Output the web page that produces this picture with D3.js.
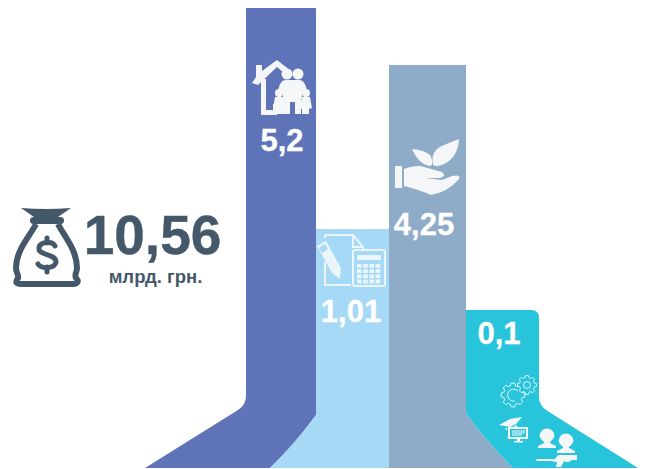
<!DOCTYPE html>
<html>
<head>
<meta charset="utf-8">
<script src="https://cdn.jsdelivr.net/npm/d3@7"></script>
<style>
html, body { margin: 0; padding: 0; background: #fff; }
svg { display: block; }
text { font-family: "Liberation Sans", Arial, sans-serif; font-weight: bold; }
</style>
</head>
<body>
<div id="chart"></div>
<script>
var categories = ["family", "admin", "economy", "other"];
var values = [5.2, 1.01, 4.25, 0.1];
var valueLabels = ["5,2", "1,01", "4,25", "0,1"];
var colors = ["#5f74b8", "#a6d9f6", "#8eabc8", "#28c4dc"];
var totalLabel = "10,56";
var unitLabel = "млрд. грн.";

var width = 646, height = 469, base = 468;
var ink = "#44586a", iconFill = "#f4f6f8";

var svg = d3.select("#chart").append("svg").attr("width", width).attr("height", height);

// bars in the picture are not to a single scale, so the value axis is piecewise
var y = d3.scaleLinear().domain([0.1, 1.01, 4.25, 5.2]).range([310, 229, 65, 8]);
var x = d3.scaleLinear().domain([0, 1, 2, 3, 4]).range([246, 316, 389, 466, 539]);

function shape(i) {
    var l = x(i), r = x(i + 1), t = y(values[i]);
    if (i == 0) return `M${l},${t}L${r},${t}L${r},415Q294,445 270,${base}L145,${base}L238,410Q${l},405 ${l},396Z`;
    if (i == 1) return `M${l},${t}L${r},${t}L${r},${base}L270,${base}Q294,445 ${l},415Z`;
    if (i == 2) return `M${l},${t}L${r},${t}L${r},413Q485,440 513,${base}L${l},${base}Z`;
    return `M${l},${t}L${r - 8},${t}Q${r},${t} ${r},${t + 8}L${r},397Q${r},405 546,410L638,${base}L513,${base}Q485,440 ${l},413Z`;
}

svg.selectAll(".bar").data(categories).enter().append("path")
    .attr("class", "bar")
    .attr("d", (d, i) => shape(i))
    .attr("fill", (d, i) => colors[i]);

// value labels
var labelPos = [[282, 151], [351, 322], [424, 235], [499, 344]];
svg.selectAll(".val").data(valueLabels).enter().append("text")
    .attr("class", "val")
    .attr("x", (d, i) => labelPos[i][0])
    .attr("y", (d, i) => labelPos[i][1])
    .attr("text-anchor", "middle")
    .attr("font-size", 31)
    .attr("fill", "#fff")
    .attr("stroke", "#fff")
    .attr("stroke-width", 0.3)
    .text(d => d);

// total
svg.append("text").attr("x", 152.5).attr("y", 254).attr("text-anchor", "middle")
    .attr("font-size", 55).attr("fill", ink).attr("stroke", ink).attr("stroke-width", 0.4).text(totalLabel);
svg.append("text").attr("x", 155.5).attr("y", 283).attr("text-anchor", "middle")
    .attr("font-size", 18.5).attr("fill", ink).text(unitLabel);

// money bag
var bag = svg.append("g").attr("fill", ink);
bag.append("path").attr("d", "M21,208Q46,210 71,208L58,217Q46,219 34,217Z");
bag.append("rect").attr("x", 30).attr("y", 217).attr("width", 34).attr("height", 7).attr("rx", 3.5);
bag.append("path").attr("fill", "none").attr("stroke", ink).attr("stroke-width", 6)
    .attr("d", "M36,224C30,236 16,250 16,268C16,273 19,275 18,278C15,282 16,284 21,284L73,284C78,284 79,281 76,278C74,275 77,272 77,268C77,250 64,236 58,224");
bag.append("path").attr("fill", "none").attr("stroke", ink).attr("stroke-width", 5).attr("stroke-linecap", "round")
    .attr("d", "M55,246C53,241 40,241 39,248C38,256 56,253 56,262C55,269 41,269 38,264");
bag.append("path").attr("fill", "none").attr("stroke", ink).attr("stroke-width", 5).attr("stroke-linecap", "round")
    .attr("d", "M47,238V243M47,267V272");

// family icon
var fam = svg.append("g").attr("fill", iconFill);
fam.append("path").attr("d", "M252,83L256,77V65H262V71L277,60L291,71L284,73L277,67L258,85Z");
fam.append("path").attr("d", "M261,79H266V110H273V104H277V115H261Z");
fam.selectAll("circle.h").data([[287, 74, 5.5], [298, 74, 5.5], [279, 93, 4], [306, 93, 4]]).enter().append("circle")
    .attr("cx", d => d[0]).attr("cy", d => d[1]).attr("r", d => d[2]);
fam.append("path").attr("d", "M278,97Q278,80 286,80H299Q307,80 307,97L304,98L303,90L301,102V114H295V102H290V114H284V102L282,90L281,98Z");
fam.append("path").attr("d", "M273,108L275,97H284L286,108L284,109V114H275V109Z");
fam.append("path").attr("d", "M300,108L302,97H310L312,108L309,109V114H302V109Z");

// pen and calculator icon
var doc = svg.append("g");
doc.append("path").attr("fill", "none").attr("stroke", "#eaf5fc").attr("stroke-width", 2)
    .attr("d", "M325,235H353L363,247V249M353,235V247H363M325,235V238M325,262V285H351");
doc.append("path").attr("fill", "#eaf5fc").attr("d", "M317,246L326,241L341,268L340,279L332,273Z");
doc.append("path").attr("fill", "#a6d9f6").attr("d", "M319,248L325,244L328,249L322,253Z");
var calc = svg.append("g").attr("transform", "translate(353,250)");
calc.append("rect").attr("width", 32).attr("height", 36).attr("rx", 2).attr("fill", "none")
    .attr("stroke", "#eaf5fc").attr("stroke-width", 2);
calc.append("rect").attr("x", 4).attr("y", 5).attr("width", 24).attr("height", 5).attr("fill", "#eaf5fc");
d3.range(4).forEach(r => d3.range(4).forEach(c => {
    calc.append("rect").attr("x", 4 + c * 6.2).attr("y", 14 + r * 5.2).attr("width", 4.6).attr("height", 3.8).attr("fill", "#eaf5fc");
}));

// hand with plant icon
var hand = svg.append("g").attr("fill", iconFill);
hand.append("rect").attr("x", 395).attr("y", 166).attr("width", 7).attr("height", 22);
hand.append("path").attr("d", "M404,169Q417,164 424,167L442,172Q447,176 440,178L426,178L442,180L452,176Q461,174 459,179Q448,192 431,195Q420,190 404,186Z");
hand.append("path").attr("d", "M412,149Q424,150 430,155Q434,162 431,166Q419,165 412,149Z");
hand.append("path").attr("d", "M459,139Q458,156 446,163Q438,168 433,165Q430,150 444,145Z");

// gears icon
function gearPath(r1, r2, n) {
    var pts = [];
    d3.range(n).forEach(k => {
        var a = k * 2 * Math.PI / n, w = Math.PI / n * 0.55;
        pts.push([r1, a - w * 1.3], [r2, a - w * 0.7], [r2, a + w * 0.7], [r1, a + w * 1.3]);
    });
    return d3.lineRadial().radius(d => d[0]).angle(d => d[1]).curve(d3.curveLinearClosed)(pts);
}
var gears = svg.append("g").attr("fill", "none").attr("stroke", "#e6f8fb").attr("stroke-width", 1);
gears.append("path").attr("transform", "translate(513,395)").attr("d", gearPath(9.5, 12, 8));
gears.append("path").attr("transform", "translate(527,385)").attr("fill", "#28c4dc").attr("d", gearPath(7.5, 9.5, 8));
gears.append("circle").attr("cx", 527).attr("cy", 385).attr("r", 3.5);
gears.append("path").attr("d", "M518,391A6,6 0 1,0 515,401");

// cap and monitor icon
var edu = svg.append("g").attr("fill", iconFill);
edu.append("path").attr("d", "M499,425L510,419L522,417L516,424L510,427Z");
edu.append("path").attr("d", "M505,428L511,428L517,425V428H507V431Z");
edu.append("rect").attr("x", 508).attr("y", 427).attr("width", 20).attr("height", 12);
edu.append("rect").attr("x", 510).attr("y", 429).attr("width", 16).attr("height", 8).attr("fill", "#28c4dc");
edu.append("path").attr("d", "M512,430.5H525V431.5H512ZM512,432.5H525V433.5H512ZM512,434.5H522V435.5H512ZM517,439H520V441H523V442.5H514V441H517Z");

// soldiers and rifle icon
var sol = svg.append("g").attr("fill", iconFill);
[[547, 436], [566, 441]].forEach(p => {
    sol.append("path").attr("d", `M${p[0] - 7.5},${p[1]}A7.5,7.5 0 0,1 ${p[0] + 7.5},${p[1]}L${p[0] + 6},${p[1] + 3}L${p[0] + 3},${p[1] + 6}V${p[1] + 7}L${p[0] + 9},${p[1] + 10}V${p[1] + 12}H${p[0] - 9}V${p[1] + 10}L${p[0] - 3},${p[1] + 7}V${p[1] + 6}L${p[0] - 6},${p[1] + 3}Z`);
});
sol.append("path").attr("d", "M536,459L555,459L558,455H577L577,460H572L569,462H566L564,461L561,467H556L557,462L550,461L537,461Z");
</script>
</body>
</html>
